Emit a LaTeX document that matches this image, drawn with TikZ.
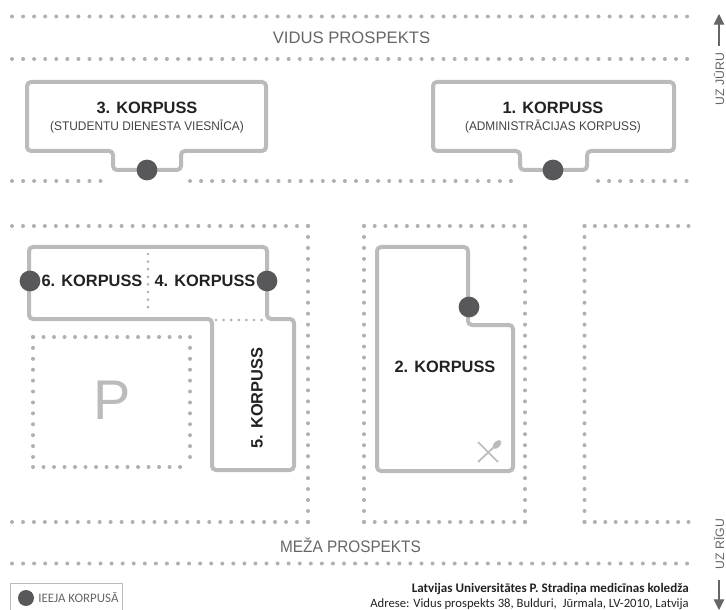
\documentclass[tikz,border=0pt]{standalone}
\usepackage{fontspec}
\setmainfont{Liberation Sans}
\newfontfamily\carl{Carlito}
\usetikzlibrary{arrows.meta}
\definecolor{walls}{HTML}{BBBBBB}
\definecolor{dotc}{HTML}{B0B0B0}
\definecolor{entry}{HTML}{58585A}
\definecolor{roadt}{HTML}{666666}
\definecolor{ink}{HTML}{222222}
\tikzset{
  dotline/.style={draw=dotc,line width=3pt,line cap=round,dash pattern=on 0pt off #1},
  wall/.style={draw=walls,line width=3pt,rounded corners=3pt,line join=round},
  entrydot/.style={circle,fill=entry,draw=none,minimum size=15.6pt,inner sep=0pt},
  korp/.style={text=ink,font=\fontsize{12.3}{14}\selectfont\bfseries,inner sep=0pt},
  subt/.style={text=ink!85,font=\fontsize{9.4}{12}\selectfont,inner sep=0pt},
  road/.style={text=roadt,font=\fontsize{12.5}{15}\selectfont,inner sep=0pt},
  side/.style={text=roadt,font=\fontsize{9.2}{11}\selectfont,inner sep=0pt,rotate=90},
  dirarrow/.style={draw=roadt,line width=.8pt,-{Triangle[length=8pt,width=8pt]}},
  addr/.style={text=ink,anchor=east,inner sep=0pt},
  innerdots/.style={draw=dotc,line width=2.2pt,line cap=round,dash pattern=on 0pt off 5.7pt}
}
\begin{document}
\begin{tikzpicture}[x=0.75pt,y=-0.75pt]
\useasboundingbox (0,0) rectangle (726,610);
% road and plot dots
\draw[dotline=8.3pt] (12,16.5) -- (690,16.5);
\draw[dotline=8.3pt] (12,59) -- (690,59);
\draw[dotline=8.3pt] (12,181) -- (104,181);
\draw[dotline=8.3pt] (190,181) -- (513,181);
\draw[dotline=8.3pt] (598,181) -- (690,181);
\draw[dotline=8.22pt] (12,226) -- (308.5,226);
\draw[dotline=8.22pt] (308,226) -- (308,522.5);
\draw[dotline=8.22pt] (12,522) -- (308.5,522);
\draw[dotline=8.05pt] (364,226) -- (525.5,226);
\draw[dotline=8.22pt] (364,226) -- (364,522);
\draw[dotline=8.22pt] (525,226) -- (525,522);
\draw[dotline=8.05pt] (364,522) -- (525.5,522);
\draw[dotline=7.8pt] (584.5,226) -- (689,226);
\draw[dotline=8.22pt] (584.5,226) -- (584.5,522);
\draw[dotline=7.8pt] (584.5,522) -- (689,522);
\draw[dotline=8.3pt] (12,563.5) -- (690,563.5);
\draw[dotline=7.88pt] (33,337) -- (190.5,337);
\draw[dotline=7.88pt] (33,467) -- (190.5,467);
\draw[dotline=8.18pt] (33,337) -- (33,467.5);
\draw[dotline=8.18pt] (190,337) -- (190,467.5);
% buildings
\draw[wall] (27,82) -- (266,82) -- (266,151) -- (181,151) -- (181,170) -- (113,170) -- (113,151) -- (27,151) -- cycle;
\draw[wall] (433,82) -- (674,82) -- (674,151) -- (587,151) -- (587,170) -- (520,170) -- (520,151) -- (433,151) -- cycle;
\draw[wall] (29,247) -- (267,247) -- (267,319) -- (294,319) -- (294,470) -- (212,470) -- (212,319) -- (29,319) -- cycle;
\draw[wall] (377,247) -- (468,247) -- (468,325) -- (513,325) -- (513,471) -- (377,471) -- cycle;
\draw[innerdots] (148,254) -- (148,312);
\draw[innerdots] (216,320) -- (266,320);
% entrances
\node[entrydot] (e3) at (147,170) {};
\node[entrydot] (e1) at (553,170) {};
\node[entrydot] (e6) at (30,281) {};
\node[entrydot] (e4) at (267,281) {};
\node[entrydot] (e2) at (469,307) {};
% labels
\node[korp] (k3) at (147,108) {3. KORPUSS};
\node[subt] (s3) at (147,127) {\scalebox{.95}[1]{(STUDENTU DIENESTA VIESNĪCA)}};
\node[korp] (k1) at (553,108) {1. KORPUSS};
\node[subt] (s1) at (553,127) {\scalebox{.946}[1]{(ADMINISTRĀCIJAS KORPUSS)}};
\node[korp] (k6) at (92,281) {6. KORPUSS};
\node[korp] (k4) at (205,281) {4. KORPUSS};
\node[korp,rotate=90] (k5) at (257,398) {5. KORPUSS};
\node[korp] (k2) at (445,367) {2. KORPUSS};
\node[inner sep=0pt,text=walls,font=\fontsize{42}{44}\selectfont] (p) at (112,400) {P};
\node[road] (vp) at (351.5,38) {VIDUS PROSPEKTS};
\node[road] (mp) at (350.5,545) {\scalebox{.92}[1]{MEŽA PROSPEKTS}};
% fork and knife
\draw[draw=walls,line width=1.3pt] (478,442) -- (498,462);
\draw[draw=walls,line width=1.3pt] (478,462) -- (494,447);
\fill[walls,rotate around={45:(497,444.5)}] (497,444.5) ellipse [x radius=4pt,y radius=2.4pt];
% direction arrows
\node[side] (uj) at (719,79) {UZ JŪRU};
\coordinate (ujt) at (719,14);
\draw[dirarrow] (719,46) -- (ujt);
\node[side] (ur) at (719,544) {UZ RĪGU};
\coordinate (urt) at (719,610);
\draw[dirarrow] (719,580) -- (urt);
% legend
\draw[draw=walls,line width=1pt] (10.5,612) -- (10.5,583.5) -- (122.5,583.5) -- (122.5,612);
\node[circle,fill=entry,minimum size=12pt,inner sep=0pt] (le) at (26,598) {};
\node[anchor=west,inner sep=0pt,text=roadt,font=\carl\fontsize{9.7}{11}\selectfont] (lt) at (38,598) {IEEJA KORPUSĀ};
% address
\node[addr,font=\carl\fontsize{9.8}{12}\selectfont\bfseries] (a1) at (689,589) {Latvijas Universitātes P. Stradiņa medicīnas koledža};
\node[addr,font=\carl\fontsize{9.5}{12}\selectfont] (a2) at (689,604) {Adrese: Vidus prospekts 38, Bulduri,\ \ Jūrmala, LV-2010, Latvija};
\end{tikzpicture}
\end{document}
